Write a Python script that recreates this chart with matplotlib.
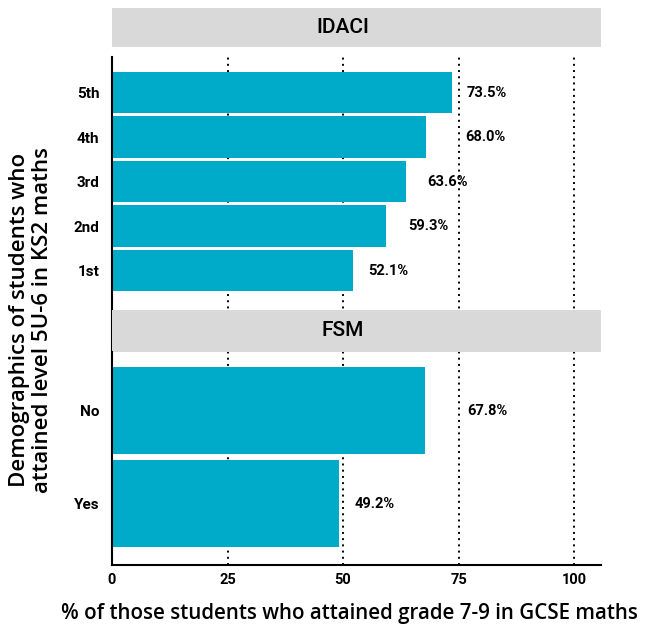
import matplotlib
matplotlib.use('Agg')
import matplotlib.pyplot as plt
from matplotlib.patches import Rectangle
import matplotlib.transforms as mtransforms

# data
idaci_labels = ['1st', '2nd', '3rd', '4th', '5th']
idaci_values = [52.1, 59.3, 63.6, 68.0, 73.5]
fsm_labels = ['Yes', 'No']
fsm_values = [49.2, 67.8]
x_ticks = [0, 25, 50, 75, 100]

# label gap right of each bar (x units), some labels pushed past the 75 line
idaci_label_pad = [3.3, 4.8, 4.6, 8.4, 3.3]
fsm_label_pad = [3.4, 9.0]

bar_color = '#00abc9'
strip_color = '#d9d9d9'
label_font = ['Roboto', 'DejaVu Sans']
title_font = ['Open Sans', 'DejaVu Sans']

W, H = 650, 630
fig = plt.figure(figsize=(W / 100, H / 100), dpi=100)

# axes box in pixels
left, right = 112, 601
px_per_unit = 4.62

def fig_rect(top, bottom):
    return [left / W, 1 - bottom / H, (right - left) / W, (bottom - top) / H]

ax1 = fig.add_axes(fig_rect(57, 352))
ax2 = fig.add_axes(fig_rect(352, 565))

xmax = (right - left) / px_per_unit

for ax in (ax1, ax2):
    ax.set_xlim(0, xmax)
    for s in ['top', 'right']:
        ax.spines[s].set_visible(False)
    ax.spines['left'].set_linewidth(1.5)
    ax.spines['bottom'].set_linewidth(1.5)
    for xv in x_ticks[1:]:
        ax.axvline(xv, color='black', linestyle=(0, (1, 2.2)), lw=1.4, zorder=0)
    ax.tick_params(axis='y', length=0, pad=9)
    ax.tick_params(axis='x', length=0, pad=6)

ax1.spines['bottom'].set_visible(False)
ax1.set_xticks([])
ax2.set_xticks(x_ticks)
ax2.set_xticklabels([str(v) for v in x_ticks], family=label_font,
                    fontsize=10.5, fontweight='bold')

# IDACI panel
pos1 = list(range(1, len(idaci_labels) + 1))
b1 = ax1.barh(pos1, idaci_values, height=0.93, color=bar_color, zorder=1)
ax1.set_ylim(-0.83, 5.80)
ax1.set_yticks(pos1)
ax1.set_yticklabels(idaci_labels, family=label_font, fontsize=11, fontweight='bold')

# FSM panel
pos2 = list(range(1, len(fsm_labels) + 1))
b2 = ax2.barh(pos2, fsm_values, height=0.93, color=bar_color, zorder=1)
ax2.set_ylim(0.34, 2.63)
ax2.set_yticks(pos2)
ax2.set_yticklabels(fsm_labels, family=label_font, fontsize=11, fontweight='bold')

# value labels
for ax, bars, pads in ((ax1, b1, idaci_label_pad), (ax2, b2, fsm_label_pad)):
    for rect, pad in zip(bars, pads):
        w = rect.get_width()
        ax.text(w + pad, rect.get_y() + rect.get_height() / 2, '%.1f%%' % w,
                ha='left', va='center', family=label_font, fontsize=10.5,
                fontweight='bold')

# strips
h1 = 352 - 57
tr = mtransforms.blended_transform_factory(ax1.transData, ax1.transAxes)
top_strip = Rectangle((0, 1 + 10 / h1), xmax, 39 / h1, transform=tr,
                      facecolor=strip_color, edgecolor='none', clip_on=False, zorder=3)
ax1.add_patch(top_strip)
ax1.text(50, 1 + 29.5 / h1, 'IDACI', transform=tr, ha='center', va='center',
         family=label_font, fontsize=15, fontweight='medium', zorder=4)

fsm_strip = Rectangle((0, 0), xmax, 42 / h1, transform=tr,
                      facecolor=strip_color, edgecolor='none', clip_on=False, zorder=3)
ax1.add_patch(fsm_strip)
ax1.text(50, 21 / h1, 'FSM', transform=tr, ha='center', va='center',
         family=label_font, fontsize=15, fontweight='medium', zorder=4)

# axis titles
fig.text(31 / W, 1 - 320 / H,
         'Demographics of students who\nattained level 5U-6 in KS2 maths',
         rotation=90, ha='center', va='center', family=title_font,
         fontsize=16, fontweight='semibold', linespacing=1.15)
fig.text(349 / W, 1 - 613 / H,
         '% of those students who attained grade 7-9 in GCSE maths',
         ha='center', va='center', family=title_font, fontsize=14.8,
         fontweight='semibold')

fig.savefig('out.png', dpi=100)
